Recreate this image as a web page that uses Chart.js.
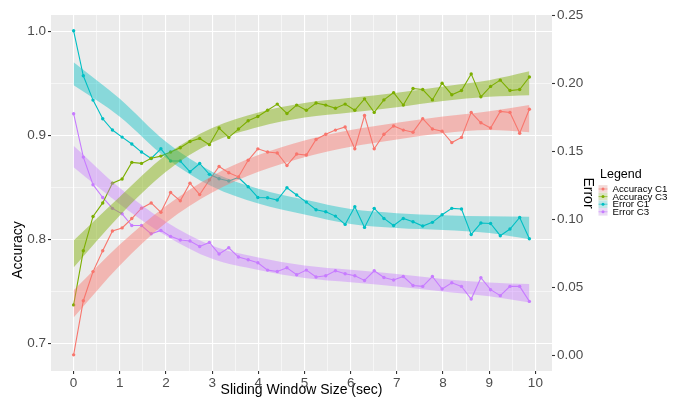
<!DOCTYPE html>
<html>
<head>
<meta charset="utf-8">
<script src="https://cdn.jsdelivr.net/npm/chart.js@4.4.1/dist/chart.umd.min.js"></script>
<style>
	body { margin: 0; background: #ffffff; }
</style>
</head>
<body>
<canvas id="myChart" width="683" height="402"></canvas>
<script>
// window sizes (sec) of every measured point
var windowSizes = [0, 0.21, 0.42, 0.63, 0.84, 1.05, 1.26, 1.47, 1.68, 1.89, 2.1, 2.31, 2.52, 2.73, 2.94, 3.15,
	3.36, 3.57, 3.78, 3.99, 4.2, 4.41, 4.62, 4.83, 5.04, 5.25, 5.46, 5.67, 5.88, 6.09, 6.3, 6.51,
	6.72, 6.93, 7.14, 7.35, 7.56, 7.77, 7.98, 8.19, 8.4, 8.61, 8.82, 9.03, 9.24, 9.45, 9.66, 9.87];

var accuracyC1 = [0.689, 0.741, 0.769, 0.789, 0.808, 0.811, 0.820, 0.830, 0.835, 0.826, 0.845, 0.837, 0.854, 0.843, 0.857, 0.870,
	0.864, 0.860, 0.876, 0.887, 0.884, 0.883, 0.871, 0.882, 0.881, 0.896, 0.901, 0.905, 0.908, 0.887, 0.919, 0.887,
	0.901, 0.909, 0.905, 0.903, 0.916, 0.906, 0.904, 0.893, 0.898, 0.922, 0.912, 0.907, 0.923, 0.922, 0.902, 0.925];
var accuracyC3 = [0.737, 0.789, 0.822, 0.835, 0.854, 0.858, 0.874, 0.873, 0.878, 0.880, 0.884, 0.888, 0.894, 0.897, 0.891, 0.907,
	0.898, 0.906, 0.914, 0.918, 0.924, 0.930, 0.921, 0.929, 0.924, 0.931, 0.929, 0.926, 0.930, 0.924, 0.935, 0.922,
	0.934, 0.941, 0.929, 0.945, 0.944, 0.934, 0.950, 0.939, 0.943, 0.959, 0.937, 0.947, 0.953, 0.943, 0.944, 0.956];
var errorC1 = [0.2386, 0.2055, 0.1876, 0.1739, 0.1656, 0.1604, 0.1553, 0.1494, 0.1447, 0.1518, 0.1428, 0.1428, 0.1349, 0.1410, 0.1330, 0.1298,
	0.1281, 0.1307, 0.1239, 0.1160, 0.1158, 0.1141, 0.1232, 0.1178, 0.1126, 0.1070, 0.1055, 0.1023, 0.0962, 0.1092, 0.0940, 0.1080,
	0.1006, 0.0954, 0.1006, 0.0982, 0.0950, 0.0977, 0.1033, 0.1080, 0.1075, 0.0888, 0.0972, 0.0969, 0.0879, 0.0928, 0.1013, 0.0857];
var errorC3 = [0.1776, 0.1457, 0.1254, 0.1160, 0.1080, 0.1040, 0.0954, 0.0954, 0.0893, 0.0918, 0.0874, 0.0847, 0.0840, 0.0800, 0.0829, 0.0744,
	0.0790, 0.0722, 0.0702, 0.0680, 0.0626, 0.0616, 0.0643, 0.0592, 0.0626, 0.0575, 0.0585, 0.0621, 0.0599, 0.0585, 0.0550, 0.0621,
	0.0572, 0.0553, 0.0579, 0.0513, 0.0506, 0.0579, 0.0487, 0.0533, 0.0506, 0.0413, 0.0570, 0.0482, 0.0438, 0.0506, 0.0506, 0.0396];

// smoothed trend bands (upper / lower edge), read at these window sizes
var smoothX = [0, 1, 2, 3, 4, 5, 6, 7, 8, 9, 9.87];
var accC1Upper = [0.751, 0.795, 0.832, 0.861, 0.881, 0.895, 0.905, 0.912, 0.918, 0.923, 0.929];
var accC1Lower = [0.725, 0.775, 0.816, 0.845, 0.865, 0.879, 0.889, 0.896, 0.902, 0.905, 0.903];
var accC3Upper = [0.799, 0.841, 0.881, 0.907, 0.922, 0.931, 0.936, 0.941, 0.947, 0.953, 0.9615];
var accC3Lower = [0.773, 0.823, 0.865, 0.893, 0.908, 0.917, 0.922, 0.927, 0.933, 0.937, 0.9385];
var errC1Upper = [0.2155, 0.1886, 0.1569, 0.135, 0.1225, 0.1145, 0.1075, 0.1045, 0.103, 0.1022, 0.1018];
var errC1Lower = [0.1985, 0.1754, 0.1451, 0.124, 0.1115, 0.1035, 0.0965, 0.0935, 0.092, 0.0898, 0.0852];
var errC3Upper = [0.1541, 0.1229, 0.0981, 0.0805, 0.0719, 0.066, 0.0628, 0.0598, 0.0561, 0.0535, 0.0523];
var errC3Lower = [0.1383, 0.1111, 0.0879, 0.0709, 0.0627, 0.0568, 0.0536, 0.0506, 0.0469, 0.0433, 0.0387];

var seriesNames = ["Accuracy C1", "Accuracy C3", "Error C1", "Error C3"];
var seriesColors = ["#F8766D", "#7CAE00", "#00BFC4", "#C77CFF"];
var bandColors = ["rgba(248,118,109,0.45)", "rgba(124,174,0,0.45)", "rgba(0,191,196,0.42)", "rgba(199,124,255,0.42)"];
var keyColors = ["rgba(248,118,109,0.2)", "rgba(124,174,0,0.2)", "rgba(0,191,196,0.2)", "rgba(199,124,255,0.2)"];

var xTicks = [0, 1, 2, 3, 4, 5, 6, 7, 8, 9, 10];
var xTickLabels = ["0", "1", "2", "3", "4", "5", "6", "7", "8", "9", "10"];
var accTicks = [0.7, 0.8, 0.9, 1.0];
var accTickLabels = ["0.7", "0.8", "0.9", "1.0"];
var errTicks = [0, 0.05, 0.1, 0.15, 0.2, 0.25];
var errTickLabels = ["0.00", "0.05", "0.10", "0.15", "0.20", "0.25"];

var FONT = '"Liberation Sans", Arial, sans-serif';

function pairs(xs, ys) {
	return xs.map(function (x, i) { return { x: x, y: ys[i] }; });
}

// major ticks + minor ones halfway between (for the thin grid lines)
function withMinor(major, min, max) {
	var all = major.slice();
	var step = major[1] - major[0];
	var first = major[0] - step / 2;
	for (var v = first; v <= max + 1e-9; v += step) {
		if (v >= min) all.push(Math.round(v * 1000) / 1000);
	}
	all.sort(function (a, b) { return a - b; });
	return all.map(function (v) { return { value: v }; });
}

function isMajor(list, v) {
	for (var i = 0; i < list.length; i++) {
		if (Math.abs(list[i] - v) < 1e-6) return i;
	}
	return -1;
}

function gridFor(list) {
	return {
		color: "#FFFFFF",
		lineWidth: function (c) { return isMajor(list, c.tick.value) >= 0 ? 1.1 : 0.55; },
		tickColor: function (c) { return isMajor(list, c.tick.value) >= 0 ? "#333333" : "rgba(0,0,0,0)"; },
		tickWidth: 1.1,
		tickLength: 3,
	};
}

var panelBackground = {
	id: "panelBackground",
	beforeDraw: function (chart) {
		var a = chart.chartArea;
		var ctx = chart.ctx;
		ctx.save();
		ctx.fillStyle = "#EBEBEB";
		ctx.fillRect(a.left, a.top, a.right - a.left, a.bottom - a.top);
		ctx.restore();
	},
};

var sideLegend = {
	id: "sideLegend",
	afterDraw: function (chart) {
		var ctx = chart.ctx;
		ctx.save();
		// left axis title
		ctx.fillStyle = "#000000";
		ctx.font = "14px " + FONT;
		ctx.textAlign = "center";
		ctx.textBaseline = "middle";
		ctx.translate(18, 250);
		ctx.rotate(-Math.PI / 2);
		ctx.fillText("Accuracy", 0, 0);
		ctx.restore();

		ctx.save();
		ctx.textBaseline = "middle";
		ctx.fillStyle = "#000000";
		ctx.font = "12.5px " + FONT;
		ctx.fillText("Legend", 600, 175);
		ctx.font = "9.7px " + FONT;
		for (var i = 0; i < seriesNames.length; i++) {
			var y = 189 + i * 7.6;
			ctx.fillStyle = "#F2F2F2";
			ctx.fillRect(598.5, y - 3.8, 9, 7.6);
			ctx.fillStyle = keyColors[i];
			ctx.fillRect(598.5, y - 3.8, 9, 7.6);
			ctx.strokeStyle = seriesColors[i];
			ctx.lineWidth = 0.6;
			ctx.beginPath();
			ctx.moveTo(598.5, y);
			ctx.lineTo(607.5, y);
			ctx.stroke();
			ctx.fillStyle = seriesColors[i];
			ctx.beginPath();
			ctx.arc(603, y, 1.5, 0, Math.PI * 2);
			ctx.fill();
			ctx.fillStyle = "#000000";
			ctx.fillText(seriesNames[i], 612.5, y + 0.5);
		}
		ctx.restore();
	},
};

function band(upper, lower, color, axis) {
	return [
		{
			data: pairs(smoothX, upper), yAxisID: axis, order: 0,
			borderColor: "rgba(0,0,0,0)", borderWidth: 0, pointRadius: 0,
			backgroundColor: color, fill: "+1", cubicInterpolationMode: "monotone",
		},
		{
			data: pairs(smoothX, lower), yAxisID: axis, order: 0,
			borderColor: "rgba(0,0,0,0)", borderWidth: 0, pointRadius: 0,
			fill: false, cubicInterpolationMode: "monotone",
		},
	];
}

function series(values, i, axis) {
	return {
		label: seriesNames[i], data: pairs(windowSizes, values), yAxisID: axis, order: 1,
		borderColor: seriesColors[i], borderWidth: 1.1, tension: 0,
		pointRadius: 1.7, pointBorderWidth: 0, pointBackgroundColor: seriesColors[i], fill: false,
	};
}

var datasets = []
	.concat(band(accC1Upper, accC1Lower, bandColors[0], "y"))
	.concat(band(accC3Upper, accC3Lower, bandColors[1], "y"))
	.concat(band(errC1Upper, errC1Lower, bandColors[2], "y2"))
	.concat(band(errC3Upper, errC3Lower, bandColors[3], "y2"))
	.concat([
		series(accuracyC1, 0, "y"),
		series(accuracyC3, 1, "y"),
		series(errorC1, 2, "y2"),
		series(errorC3, 3, "y2"),
	]);

var ctx = document.getElementById("myChart").getContext("2d");
var myChart = new Chart(ctx, {
	type: "line",
	data: { datasets: datasets },
	plugins: [panelBackground, sideLegend],
	options: {
		responsive: false,
		animation: false,
		layout: { padding: { top: 15, right: 87, bottom: 0, left: 0 } },
		plugins: {
			legend: { display: false },
			tooltip: { enabled: false },
		},
		scales: {
			x: {
				type: "linear",
				min: -0.49,
				max: 10.36,
				afterBuildTicks: function (s) { s.ticks = withMinor(xTicks, -0.49, 10.36); },
				afterFit: function (s) { s.height = 31; },
				grid: gridFor(xTicks),
				border: { display: false },
				ticks: {
					autoSkip: false, maxRotation: 0, padding: 1, color: "#4D4D4D",
					font: { family: FONT, size: 13.5 },
					callback: function (v) { var k = isMajor(xTicks, v); return k >= 0 ? xTickLabels[k] : ""; },
				},
				title: {
					display: true, text: "Sliding Window Size (sec)", color: "#000000",
					font: { family: FONT, size: 14 }, padding: { top: 0, bottom: 3 },
				},
			},
			y: {
				position: "left",
				min: 0.6735,
				max: 1.0156,
				afterBuildTicks: function (s) { s.ticks = withMinor(accTicks, 0.6735, 1.0156); },
				afterFit: function (s) { s.width = 51; },
				grid: gridFor(accTicks),
				border: { display: false },
				ticks: {
					autoSkip: false, padding: 2, color: "#4D4D4D",
					font: { family: FONT, size: 13.5 },
					callback: function (v) { var k = isMajor(accTicks, v); return k >= 0 ? accTickLabels[k] : ""; },
				},
				title: { display: false },
			},
			y2: {
				position: "right",
				min: -0.0116,
				max: 0.2502,
				afterBuildTicks: function (s) { s.ticks = errTicks.map(function (v) { return { value: v }; }); },
				afterFit: function (s) { s.width = 44; },
				grid: {
					drawOnChartArea: false,
					tickColor: "#333333", tickWidth: 1.1, tickLength: 3,
				},
				border: { display: false },
				ticks: {
					autoSkip: false, padding: 2, color: "#4D4D4D",
					font: { family: FONT, size: 13.5 },
					callback: function (v) { var k = isMajor(errTicks, v); return k >= 0 ? errTickLabels[k] : ""; },
				},
				title: {
					display: true, text: "Error", color: "#000000",
					font: { family: FONT, size: 14 }, padding: { top: 0, bottom: 0 },
				},
			},
		},
	},
});
</script>
</body>
</html>
